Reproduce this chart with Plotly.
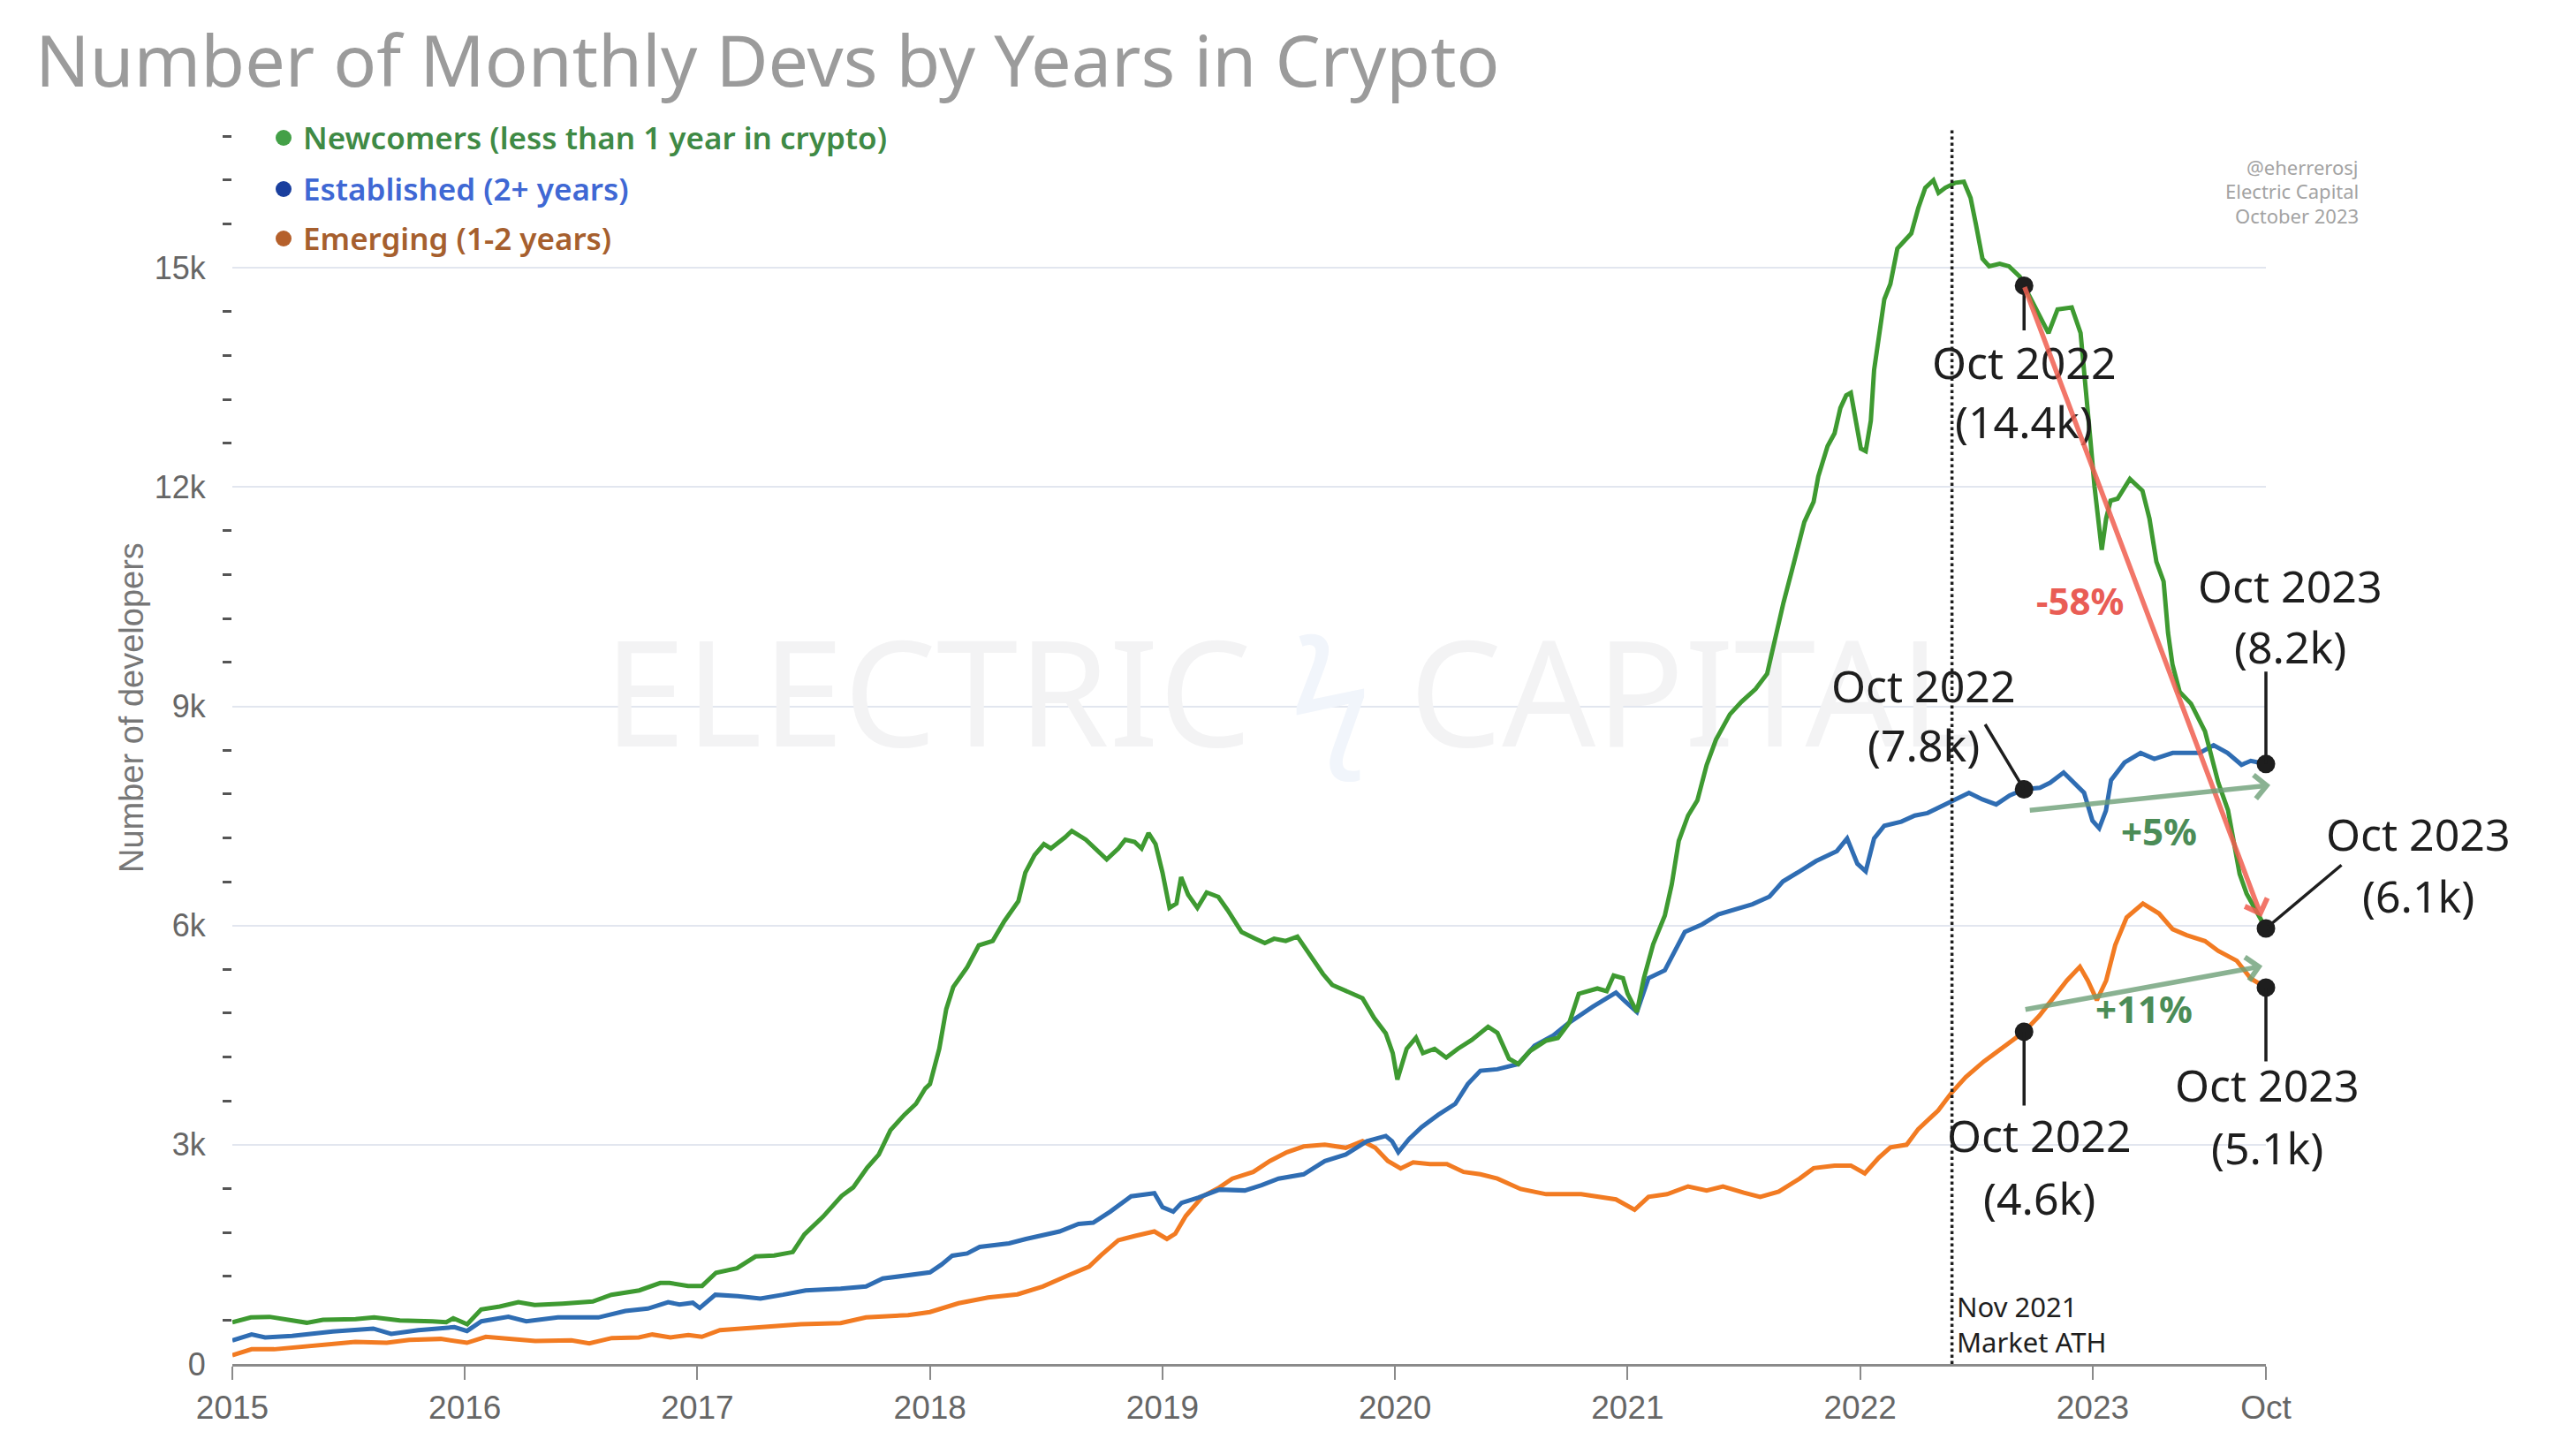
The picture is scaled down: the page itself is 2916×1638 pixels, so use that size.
import plotly.graph_objects as go

# ---------------- data ----------------
GREEN_X = [2015.00, 2015.08, 2015.16, 2015.24, 2015.32, 2015.39, 2015.53, 2015.61, 2015.72, 2015.86, 2015.92, 2015.95,
           2016.01, 2016.07, 2016.15, 2016.23, 2016.30, 2016.42, 2016.55, 2016.63, 2016.75, 2016.84, 2016.88, 2016.96,
           2017.02, 2017.08, 2017.17, 2017.25, 2017.33, 2017.41, 2017.46, 2017.54, 2017.62, 2017.67, 2017.73, 2017.78,
           2017.83, 2017.89, 2017.94, 2017.98, 2018.00, 2018.04, 2018.07, 2018.10, 2018.16, 2018.21, 2018.27, 2018.32,
           2018.38, 2018.41, 2018.45, 2018.49, 2018.52, 2018.58, 2018.61, 2018.67, 2018.70, 2018.76, 2018.81, 2018.84,
           2018.88, 2018.91, 2018.94, 2018.97, 2019.00, 2019.03, 2019.06, 2019.08, 2019.11, 2019.15, 2019.19, 2019.24,
           2019.28, 2019.34, 2019.40, 2019.44, 2019.48, 2019.53, 2019.58, 2019.63, 2019.69, 2019.73, 2019.79, 2019.86,
           2019.91, 2019.96, 2019.99, 2020.01, 2020.05, 2020.09, 2020.12, 2020.17, 2020.22, 2020.27, 2020.33, 2020.40,
           2020.44, 2020.49, 2020.53, 2020.58, 2020.65, 2020.70, 2020.75, 2020.79, 2020.87, 2020.91, 2020.94, 2020.98,
           2021.00, 2021.04, 2021.07, 2021.11, 2021.16, 2021.19, 2021.22, 2021.26, 2021.30, 2021.34, 2021.38, 2021.44,
           2021.49, 2021.55, 2021.60, 2021.63, 2021.67, 2021.71, 2021.76, 2021.80, 2021.82, 2021.86, 2021.89, 2021.915,
           2021.94, 2021.96, 2021.98, 2022.003, 2022.024, 2022.046, 2022.06, 2022.08, 2022.104, 2022.13, 2022.16, 2022.19,
           2022.22, 2022.25, 2022.28, 2022.315, 2022.337, 2022.366, 2022.41, 2022.446, 2022.475, 2022.497, 2022.526,
           2022.555, 2022.60, 2022.64, 2022.686, 2022.705, 2022.81, 2022.849, 2022.91, 2022.948, 2022.966, 2022.99,
           2023.008, 2023.039, 2023.058, 2023.077, 2023.107, 2023.16, 2023.214, 2023.244, 2023.274, 2023.305, 2023.324,
           2023.343, 2023.374, 2023.423, 2023.483, 2023.54, 2023.582, 2023.601, 2023.632, 2023.662, 2023.70, 2023.745]
GREEN_Y = [570, 637, 645, 605, 564, 605, 613, 637, 596, 584, 572, 625,
           544, 745, 786, 846, 806, 826, 854, 947, 1007, 1108, 1108, 1068,
           1068, 1249, 1310, 1471, 1483, 1531, 1773, 2015, 2300, 2416, 2687, 2867,
           3199, 3410, 3560, 3771, 3831, 4313, 4855, 5157, 5428, 5729, 5789, 6060,
           6331, 6723, 6964, 7114, 7054, 7205, 7295, 7175, 7084, 6904, 7054, 7175,
           7145, 7054, 7265, 7114, 6723, 6241, 6301, 6663, 6422, 6241, 6452, 6392,
           6211, 5910, 5819, 5759, 5819, 5789, 5849, 5608, 5337, 5187, 5096, 5006,
           4735, 4524, 4253, 3892, 4313, 4464, 4253, 4313, 4193, 4313, 4434, 4615,
           4532, 4176, 4104, 4282, 4425, 4461, 4674, 5066, 5138, 5102, 5316, 5280,
           5066, 4817, 5280, 5743, 6135, 6563, 7158, 7504, 7712, 8197, 8543, 8890,
           9063, 9236, 9444, 9860, 10414, 10899, 11522, 11799, 12146, 12561, 12735, 13081,
           13254, 13289, 12908, 12527, 12492, 12908, 13601, 14086, 14570, 14778, 15263, 15367,
           15471, 15818, 16095, 16199, 16025, 16095, 16164, 16178, 15956, 15610, 15125,
           15021, 15055, 15021, 14882, 14755, 14107, 14431, 14459, 14107, 13406, 12651,
           12003, 11140, 11571, 11814, 11841, 12112, 11950, 11571, 10978, 10708, 10007,
           9574, 9197, 9035, 8657, 7956, 7579, 7244, 6704, 6435, 6219, 5960]

BLUE_X = [2015.00, 2015.083, 2015.141, 2015.257, 2015.432, 2015.606, 2015.683, 2015.80, 2015.955, 2016.009, 2016.071,
          2016.187, 2016.264, 2016.40, 2016.574, 2016.69, 2016.787, 2016.874, 2016.923, 2016.98, 2017.01, 2017.077,
          2017.174, 2017.271, 2017.368, 2017.465, 2017.616, 2017.725, 2017.797, 2017.906, 2018.0, 2018.05, 2018.096,
          2018.16, 2018.214, 2018.34, 2018.413, 2018.557, 2018.639, 2018.702, 2018.775, 2018.865, 2018.919, 2018.965,
          2019.0, 2019.046, 2019.082, 2019.155, 2019.245, 2019.354, 2019.426, 2019.499, 2019.607, 2019.698, 2019.788,
          2019.879, 2019.96, 2019.987, 2020.014, 2020.06, 2020.114, 2020.186, 2020.259, 2020.313, 2020.367, 2020.44,
          2020.53, 2020.60, 2020.68, 2020.75, 2020.85, 2020.95, 2020.99, 2021.04, 2021.09, 2021.16, 2021.246, 2021.32,
          2021.39, 2021.46, 2021.537, 2021.61, 2021.668, 2021.74, 2021.81, 2021.90, 2021.944, 2021.988, 2022.024,
          2022.06, 2022.104, 2022.177, 2022.235, 2022.29, 2022.337, 2022.395, 2022.468, 2022.526, 2022.585, 2022.643,
          2022.705, 2022.773, 2022.817, 2022.875, 2022.92, 2022.963, 2022.999, 2023.028, 2023.057, 2023.079, 2023.137,
          2023.206, 2023.265, 2023.344, 2023.40, 2023.46, 2023.52, 2023.58, 2023.64, 2023.68, 2023.745]
BLUE_Y = [322, 403, 363, 383, 443, 484, 411, 463, 504, 451, 584,
          645, 584, 637, 637, 725, 758, 846, 814, 838, 766, 947,
          927, 895, 947, 1007, 1030, 1060, 1169, 1211, 1253, 1361, 1482,
          1512, 1602, 1651, 1711, 1813, 1916, 1934, 2084, 2295, 2325, 2337,
          2145, 2084, 2205, 2277, 2386, 2374, 2446, 2536, 2596, 2777, 2867,
          3048, 3120, 3048, 2898, 3078, 3241, 3410, 3560, 3831, 4012, 4033,
          4104, 4354, 4496, 4674, 4888, 5081, 4960, 4817, 5280, 5387, 5911, 6015,
          6153, 6222, 6291, 6395, 6603, 6742, 6881, 7019, 7192, 6846, 6742,
          7192, 7365, 7421, 7504, 7539, 7608, 7698, 7816, 7726, 7656, 7781,
          7864, 7885, 7954, 8093, 7954, 7816, 7435, 7331, 7573, 7989, 8231,
          8361, 8280, 8361, 8361, 8361, 8468, 8361, 8199, 8253, 8210]

ORANGE_X = [2015.0, 2015.083, 2015.18, 2015.335, 2015.529, 2015.664, 2015.761, 2015.896, 2016.009, 2016.09, 2016.206,
            2016.303, 2016.458, 2016.535, 2016.632, 2016.748, 2016.806, 2016.884, 2016.961, 2017.019, 2017.097, 2017.271,
            2017.445, 2017.616, 2017.725, 2017.906, 2018.0, 2018.123, 2018.25, 2018.376, 2018.485, 2018.594, 2018.684,
            2018.738, 2018.81, 2018.883, 2018.965, 2019.019, 2019.055, 2019.10, 2019.173, 2019.245, 2019.30, 2019.39,
            2019.462, 2019.535, 2019.607, 2019.698, 2019.788, 2019.86, 2019.915, 2019.969, 2020.024, 2020.078, 2020.15,
            2020.223, 2020.295, 2020.367, 2020.44, 2020.54, 2020.65, 2020.80, 2020.95, 2021.03, 2021.09, 2021.17, 2021.26,
            2021.34, 2021.41, 2021.50, 2021.57, 2021.65, 2021.74, 2021.80, 2021.89, 2021.96, 2022.02, 2022.08, 2022.13,
            2022.20, 2022.25, 2022.31, 2022.335, 2022.393, 2022.454, 2022.533, 2022.61, 2022.705, 2022.77, 2022.83,
            2022.889, 2022.945, 2022.979, 2023.018, 2023.058, 2023.097, 2023.146, 2023.216, 2023.285, 2023.344, 2023.404,
            2023.483, 2023.54, 2023.62, 2023.68, 2023.745]
ORANGE_Y = [121, 201, 201, 250, 302, 290, 330, 343, 290, 371, 343,
            314, 322, 282, 355, 363, 403, 363, 395, 371, 463, 504,
            544, 560, 638, 668, 711, 831, 910, 952, 1060, 1211, 1331,
            1494, 1693, 1753, 1813, 1711, 1783, 2024, 2295, 2416, 2536, 2627,
            2777, 2898, 2976, 3000, 2958, 3048, 2958, 2777, 2675, 2759, 2735,
            2735, 2627, 2596, 2537, 2394, 2323, 2323, 2252, 2109, 2287, 2323, 2430,
            2373, 2430, 2344, 2287, 2359, 2537, 2679, 2715, 2715, 2608, 2822, 2964,
            3000, 3214, 3392, 3467, 3710, 3925, 4141, 4330, 4546, 4762, 5005,
            5247, 5436, 5247, 4978, 5247, 5733, 6111, 6300, 6165, 5949, 5868,
            5787, 5652, 5517, 5274, 5151]

SERIES_NAMES = ["Newcomers (less than 1 year in crypto)", "Established (2+ years)", "Emerging (1-2 years)"]
X_TICKVALS = [2015, 2016, 2017, 2018, 2019, 2020, 2021, 2022, 2023, 2023.745]
X_TICKTEXT = ["2015", "2016", "2017", "2018", "2019", "2020", "2021", "2022", "2023", "Oct"]
OCT22 = 2022.705
ATH_X = 2022.395
LABEL_OCT22 = ["(14.4k)", "(7.8k)", "(4.6k)"]
LABEL_OCT23 = ["(6.1k)", "(8.2k)", "(5.1k)"]
PCT_TEXT = ["-58%", "+5%", "+11%"]

# ---------------- styling ----------------
W, H = 2916, 1638
ML, MR, MT, MB = 255, 359, 138, 102
X0, X1 = 2015.0, 2023.745
YMAX = 16900
LINE_COLORS = ["#3e9a31", "#2f6db3", "#f27b22"]
DOT_COLORS = ["#43a047", "#1a3f9e", "#b5602b"]
TEXT_COLORS = ["#3f8a45", "#3f68d4", "#a65f2e"]
TXT_FONT = "Noto Sans"
AX_FONT = "Liberation Sans, Arial"

def px_x(p):  # absolute page pixel -> paper fraction
    return (p - ML) / (W - ML - MR)

def px_y(p):
    return (H - MB - p) / (H - MT - MB)

fig = go.Figure()

# faint watermark (behind everything)
fig.add_trace(go.Scatter(x=[X0 + 0.52 * (X1 - X0)], y=[YMAX * 0.53], mode="text",
                         text=["ELECTRIC <span style='color:#f1f5fb'>ϟ</span> CAPITAL"],
                         textfont=dict(size=166, color="#f3f3f4", family=TXT_FONT),
                         hoverinfo="skip", showlegend=False))

series = [(GREEN_X, GREEN_Y), (BLUE_X, BLUE_Y), (ORANGE_X, ORANGE_Y)]
for idx in [2, 1, 0]:
    xs, ys = series[idx]
    fig.add_trace(go.Scatter(x=xs, y=ys, mode="lines", name=SERIES_NAMES[idx],
                             line=dict(color=LINE_COLORS[idx], width=5),
                             showlegend=False, hoverinfo="skip"))

# points of interest
oct22_vals = [ys[xs.index(OCT22)] for xs, ys in series]
oct23_vals = [ys[-1] for xs, ys in series]
fig.add_trace(go.Scatter(x=[OCT22] * 3 + [X1] * 3, y=oct22_vals + oct23_vals, mode="markers",
                         marker=dict(color="#1e1e1e", size=21), cliponaxis=False,
                         showlegend=False, hoverinfo="skip"))

ann = []

def txt(x, y, s, dx, dy, size=50, color="#1e1e1e", weight="normal", anchor="center"):
    ann.append(dict(x=x, y=y, xref="x", yref="y", text=s, showarrow=False, xshift=dx, yshift=dy,
                    xanchor=anchor, yanchor="middle",
                    font=dict(family=TXT_FONT, size=size, color=color, weight=weight)))

def connector(x, y, ax, ay):
    ann.append(dict(x=x, y=y, xref="x", yref="y", text="", showarrow=True, arrowhead=0,
                    arrowwidth=3.5, arrowcolor="#1e1e1e", ax=ax, ay=ay, standoff=0))

g22, b22, o22 = oct22_vals
g23, b23, o23 = oct23_vals
# Oct 2022 labels
connector(OCT22, g22, 0, 52)
txt(OCT22, g22, "Oct 2022", 0, -87)
txt(OCT22, g22, LABEL_OCT22[0], 0, -154)
connector(OCT22, b22, -45, -75)
txt(OCT22, b22, "Oct 2022", -114, 117)
txt(OCT22, b22, LABEL_OCT22[1], -114, 50)
connector(OCT22, o22, 0, 85)
txt(OCT22, o22, "Oct 2022", 17, -117)
txt(OCT22, o22, LABEL_OCT22[2], 17, -188)
# Oct 2023 labels
connector(X1, b23, 0, -106)
txt(X1, b23, "Oct 2023", 27, 202)
txt(X1, b23, LABEL_OCT23[1], 27, 133)
connector(X1, g23, 87, -73)
txt(X1, g23, "Oct 2023", 172, 107)
txt(X1, g23, LABEL_OCT23[0], 172, 37)
connector(X1, o23, 0, 85)
txt(X1, o23, "Oct 2023", 1, -110)
txt(X1, o23, LABEL_OCT23[2], 1, -181)

# change arrows
ann.append(dict(x=X1, y=g23, ax=OCT22, ay=g22, xref="x", yref="y", axref="x", ayref="y", text="",
                showarrow=True, arrowhead=4, arrowsize=0.95, arrowwidth=5.5,
                arrowcolor="rgba(240,95,80,0.85)", standoff=14))
ann.append(dict(x=X1, y=b23, ax=OCT22, ay=b22, xref="x", yref="y", axref="x", ayref="y", text="",
                showarrow=True, arrowhead=4, arrowsize=0.95, arrowwidth=5.5,
                arrowcolor="rgba(110,160,120,0.8)", xshift=5, yshift=-24))
ann.append(dict(x=X1, y=o23, ax=OCT22, ay=o22, xref="x", yref="y", axref="x", ayref="y", text="",
                showarrow=True, arrowhead=4, arrowsize=0.95, arrowwidth=5.5,
                arrowcolor="rgba(110,160,120,0.8)", standoff=4, yshift=25))
txt(OCT22, g22, PCT_TEXT[0], 63, -356, size=42, color="#e95d55", weight="bold")
txt(OCT22, b22, PCT_TEXT[1], 153, -47, size=42, color="#4b8c57", weight="bold")
txt(OCT22, o22, PCT_TEXT[2], 136, 26, size=42, color="#4b8c57", weight="bold")

# Market ATH
ann.append(dict(x=ATH_X, y=0, xref="x", yref="paper", text="Nov 2021<br>Market ATH", showarrow=False,
                xanchor="left", yanchor="bottom", align="left", xshift=3, yshift=2,
                font=dict(family=TXT_FONT, size=31, color="#1e1e1e")))

# title
ann.append(dict(x=px_x(30), y=px_y(58), xref="paper", yref="paper",
                text="Number of Monthly Devs by Years in Crypto",
                showarrow=False, xanchor="left", yanchor="middle",
                font=dict(family=TXT_FONT, size=81, color="#9b9b9b")))

# y-axis title
ann.append(dict(x=px_x(141), y=px_y(793), xref="paper", yref="paper", text="Number of developers",
                showarrow=False, textangle=-90, xanchor="center", yanchor="middle",
                font=dict(family=AX_FONT, size=38, color="#777777")))

# legend (dots as shapes, labels as text)
shapes = [dict(type="line", x0=ATH_X, x1=ATH_X, y0=0, y1=1, xref="x", yref="paper",
               line=dict(color="#1e1e1e", width=3.5, dash="dot"))]
for i, yy in enumerate([147, 205, 261]):
    shapes.append(dict(type="circle", xref="paper", yref="paper", xsizemode="pixel", ysizemode="pixel",
                       xanchor=px_x(313), yanchor=px_y(yy + 1), x0=-9, x1=9, y0=-9, y1=9,
                       fillcolor=DOT_COLORS[i], line=dict(width=0)))
    ann.append(dict(x=px_x(333), y=px_y(yy), xref="paper", yref="paper", text=SERIES_NAMES[i],
                    showarrow=False, xanchor="left", yanchor="middle",
                    font=dict(family=TXT_FONT, size=35, color=TEXT_COLORS[i], weight=600)))

# credits
for s, yy in zip(["@eherrerosj", "Electric Capital", "October 2023"], [181, 208, 236]):
    ann.append(dict(x=px_x(2664), y=px_y(yy), xref="paper", yref="paper", text=s, showarrow=False,
                    xanchor="right", yanchor="middle",
                    font=dict(family=TXT_FONT, size=22, color="#a3a3a3")))

fig.update_layout(
    width=W, height=H, margin=dict(l=ML, r=MR, t=MT, b=MB, autoexpand=False),
    paper_bgcolor="white", plot_bgcolor="white",
    annotations=ann, shapes=shapes,
    xaxis=dict(range=[X0, X1], tickmode="array", tickvals=X_TICKVALS, ticktext=X_TICKTEXT,
               showgrid=False, zeroline=False, showline=True, linecolor="#8a8a8a", linewidth=3,
               ticks="outside", ticklen=15, tickwidth=2, tickcolor="#8a8a8a",
               tickfont=dict(family=AX_FONT, size=37, color="#666666")),
    yaxis=dict(range=[0, YMAX], tickmode="linear", tick0=0, dtick=3000, tickformat="~s",
               showgrid=True, gridcolor="#e2e6ef", gridwidth=2, zeroline=False, showline=False,
               ticks="outside", ticklen=22, tickcolor="rgba(0,0,0,0)",
               tickfont=dict(family=AX_FONT, size=36, color="#666666"),
               minor=dict(tickmode="linear", tick0=0, dtick=600, ticks="outside", ticklen=10,
                          tickwidth=3, tickcolor="#555555", showgrid=False)),
    showlegend=False,
)

fig.write_html("out.html")
